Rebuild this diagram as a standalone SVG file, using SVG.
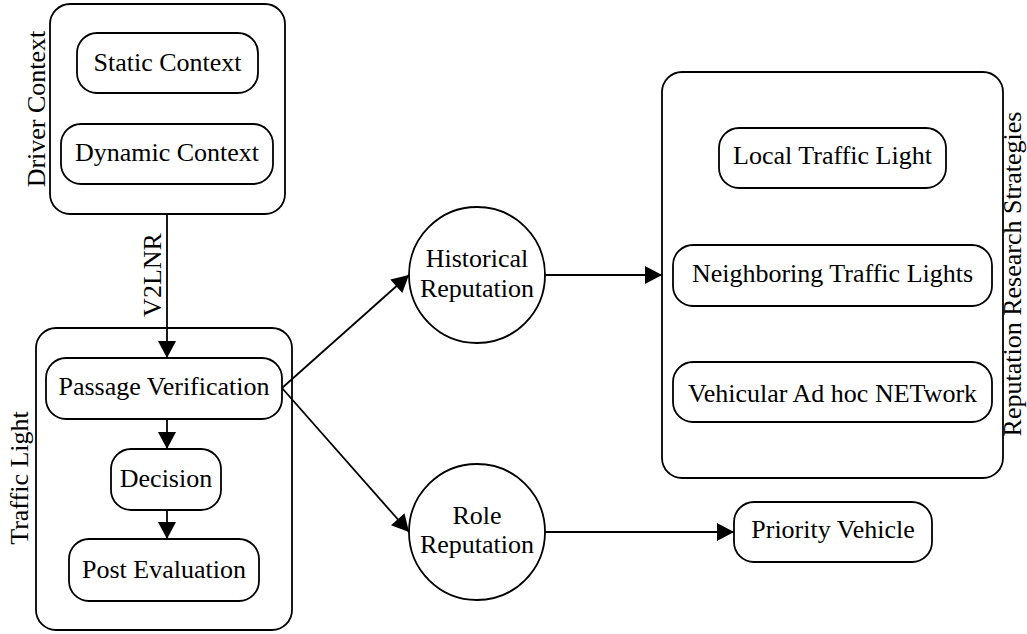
<svg xmlns="http://www.w3.org/2000/svg" width="1027" height="634" viewBox="0 0 1027 634">
<style>
  .box{fill:#fff;stroke:#000;stroke-width:1.8}
  .cont{fill:none;stroke:#000;stroke-width:1.8}
  .t{font-family:'Liberation Serif','DejaVu Serif',serif;font-size:26px;fill:#000;text-anchor:middle}
  .edge{fill:none;stroke:#000;stroke-width:1.8;marker-end:url(#arr)}
</style>
<defs>
  <marker id="arr" markerUnits="userSpaceOnUse" markerWidth="18" markerHeight="18" viewBox="0 0 17 18" refX="17" refY="9" orient="auto">
    <path d="M0,0 L17,9 L0,18 Z" fill="#000"/>
  </marker>
</defs>
<rect width="1027" height="634" fill="#fff"/>

<g id="driver-context">
  <rect class="cont" x="50" y="4" width="235" height="210" rx="20"/>
  <text class="t" transform="translate(45,109) rotate(-90)">Driver Context</text>
</g>
<g id="static-context">
  <rect class="box" x="77" y="33" width="181" height="60" rx="20"/>
  <text class="t" x="167.5" y="71">Static Context</text>
</g>
<g id="dynamic-context">
  <rect class="box" x="61" y="124" width="212" height="60" rx="20"/>
  <text class="t" x="167" y="161">Dynamic Context</text>
</g>

<g id="traffic-light">
  <rect class="cont" x="36" y="328" width="256" height="302" rx="20"/>
  <text class="t" transform="translate(28,478) rotate(-90)">Traffic Light</text>
</g>
<g id="passage-verification">
  <rect class="box" x="46" y="358" width="236" height="61" rx="20"/>
  <text class="t" x="164" y="395">Passage Verification</text>
</g>
<g id="decision">
  <rect class="box" x="111" y="449" width="110" height="61" rx="20"/>
  <text class="t" x="166" y="487">Decision</text>
</g>
<g id="post-evaluation">
  <rect class="box" x="69" y="539" width="190" height="62" rx="20"/>
  <text class="t" x="164" y="578">Post Evaluation</text>
</g>

<g id="historical-reputation">
  <circle class="box" cx="477" cy="275" r="68"/>
  <text class="t" x="477" y="267">Historical</text>
  <text class="t" x="477" y="297">Reputation</text>
</g>
<g id="role-reputation">
  <circle class="box" cx="477" cy="532" r="68"/>
  <text class="t" x="477" y="524">Role</text>
  <text class="t" x="477" y="553">Reputation</text>
</g>

<g id="reputation-research-strategies">
  <rect class="cont" x="662" y="72" width="341" height="406" rx="20"/>
  <text class="t" transform="translate(1021,274) rotate(-90)">Reputation Research Strategies</text>
</g>
<g id="local-traffic-light">
  <rect class="box" x="719" y="128" width="227" height="60" rx="20"/>
  <text class="t" x="832.5" y="164">Local Traffic Light</text>
</g>
<g id="neighboring-traffic-lights">
  <rect class="box" x="673" y="245" width="319" height="61" rx="20"/>
  <text class="t" x="832.5" y="282">Neighboring Traffic Lights</text>
</g>
<g id="vanet">
  <rect class="box" x="673" y="362" width="319" height="60" rx="20"/>
  <text class="t" x="832.5" y="402">Vehicular Ad hoc NETwork</text>
</g>
<g id="priority-vehicle">
  <rect class="box" x="734" y="502" width="198" height="60" rx="20"/>
  <text class="t" x="833" y="538">Priority Vehicle</text>
</g>

<g id="connectors">
  <line class="edge" x1="167" y1="214" x2="167" y2="358"/>
  <text class="t" transform="translate(161,275) rotate(-90)">V2LNR</text>
  <line class="edge" x1="167" y1="419" x2="167" y2="449"/>
  <line class="edge" x1="167" y1="510" x2="167" y2="539"/>
  <line class="edge" x1="282" y1="388" x2="409" y2="275"/>
  <line class="edge" x1="282" y1="388" x2="409" y2="532"/>
  <line class="edge" x1="545" y1="275" x2="662" y2="275"/>
  <line class="edge" x1="545" y1="532" x2="734" y2="532"/>
</g>
</svg>
